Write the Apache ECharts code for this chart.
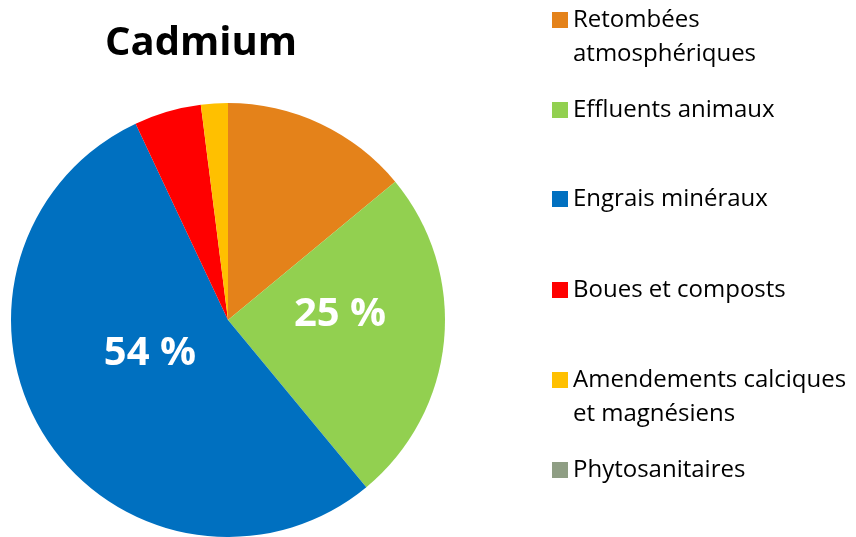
<!DOCTYPE html>
<html>
<head>
<meta charset="utf-8">
<script src="https://cdn.jsdelivr.net/npm/echarts@6/dist/echarts.min.js"></script>
<style>
	html, body { margin: 0; padding: 0; background: #fff; }
	#main { width: 856px; height: 537px; }
</style>
</head>
<body>
<div id="main"></div>
<script>
//数据
var categories = ['Retombées\natmosphériques', 'Effluents animaux', 'Engrais minéraux', 'Boues et composts', 'Amendements calciques\net magnésiens', 'Phytosanitaires'];
var values = [14, 25, 54, 5, 2, 0];
var colors = ['#E4821A', '#92D050', '#0070C0', '#FF0000', '#FFC000', '#8F9E84'];
var shownLabels = [false, true, true, false, false, false];

//图例位置 (图标中心 y)
var legendCenters = [20, 110, 199, 290, 380, 470];
var labelOffsets = [[0, 0], [1, -16], [16, -26], [0, 0], [0, 0], [0, 0]];
var LINE_H = 34;

var myChart = echarts.init(document.getElementById('main'));

var legends = categories.map(function(name, i) {
	var twoLines = name.indexOf('\n') >= 0;
	//两行时前面加一空行, 让图标对齐第一行
	var half = twoLines ? LINE_H * 1.5 : LINE_H / 2;
	return {
		orient: 'vertical',
		left: 552,
		top: legendCenters[i] - half,
		padding: 0,
		icon: 'rect',
		itemWidth: 16,
		itemHeight: 16,
		selectedMode: false,
		data: [name],
		formatter: function(n) {
			return n.indexOf('\n') >= 0 ? '\n' + n : n;
		},
		textStyle: {
			fontFamily: 'Open Sans',
			fontSize: 24,
			color: '#000',
			lineHeight: LINE_H
		}
	};
});

var option = {
	animation: false,
	title: {
		text: 'Cadmium',
		left: 196,
		top: 19,
		textAlign: 'center',
		textStyle: {
			fontFamily: 'Open Sans',
			fontSize: 40,
			fontWeight: 'bold',
			color: '#000'
		}
	},
	legend: legends,
	series: [{
		type: 'pie',
		center: [228, 320],
		radius: 217,
		startAngle: 90,
		clockwise: true,
		avoidLabelOverlap: false,
		itemStyle: { borderWidth: 0 },
		labelLine: { show: false },
		data: categories.map(function(name, i) {
			return {
				name: name,
				value: values[i],
				itemStyle: { color: colors[i] },
				label: {
					show: shownLabels[i],
					position: 'inside',
					offset: labelOffsets[i],
					formatter: '{d} %',
					fontFamily: 'Open Sans',
					fontSize: 40,
					fontWeight: 'bold',
					color: '#fff'
				}
			};
		})
	}]
};
myChart.setOption(option);
</script>
</body>
</html>
